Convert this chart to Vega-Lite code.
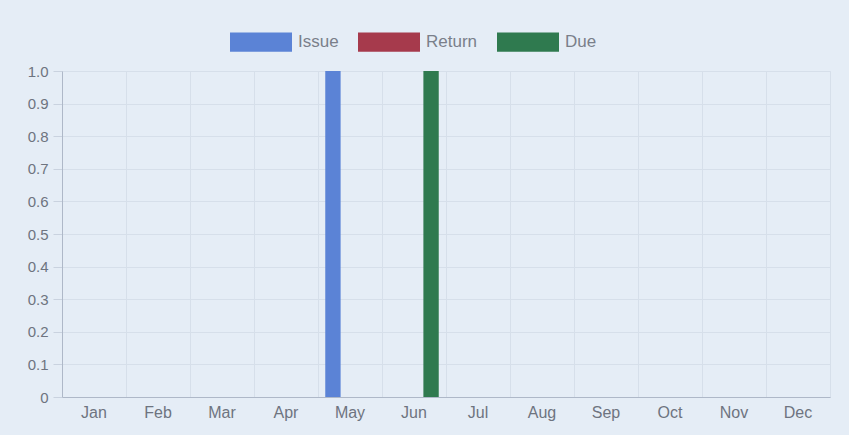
{
  "$schema": "https://vega.github.io/schema/vega-lite/v6.json",
  "autosize": "none",
  "width": 768,
  "height": 326,
  "padding": {"left": 62, "top": 71, "right": 19, "bottom": 38},
  "background": "#e5edf6",
  "config": {
    "view": {"stroke": "#d6dfea"},
    "font": "Liberation Sans",
    "axis": {"labelFont": "Liberation Sans", "labelColor": "#6e7480", "labelFontSize": 15, "gridColor": "#d6dfea", "domainColor": "#aeb8c8"}
  },
  "data": {"values": [
    {"month": "Jan", "series": "Issue", "value": 0}, {"month": "Jan", "series": "Return", "value": 0}, {"month": "Jan", "series": "Due", "value": 0},
    {"month": "Feb", "series": "Issue", "value": 0}, {"month": "Feb", "series": "Return", "value": 0}, {"month": "Feb", "series": "Due", "value": 0},
    {"month": "Mar", "series": "Issue", "value": 0}, {"month": "Mar", "series": "Return", "value": 0}, {"month": "Mar", "series": "Due", "value": 0},
    {"month": "Apr", "series": "Issue", "value": 0}, {"month": "Apr", "series": "Return", "value": 0}, {"month": "Apr", "series": "Due", "value": 0},
    {"month": "May", "series": "Issue", "value": 1}, {"month": "May", "series": "Return", "value": 0}, {"month": "May", "series": "Due", "value": 0},
    {"month": "Jun", "series": "Issue", "value": 0}, {"month": "Jun", "series": "Return", "value": 0}, {"month": "Jun", "series": "Due", "value": 1},
    {"month": "Jul", "series": "Issue", "value": 0}, {"month": "Jul", "series": "Return", "value": 0}, {"month": "Jul", "series": "Due", "value": 0},
    {"month": "Aug", "series": "Issue", "value": 0}, {"month": "Aug", "series": "Return", "value": 0}, {"month": "Aug", "series": "Due", "value": 0},
    {"month": "Sep", "series": "Issue", "value": 0}, {"month": "Sep", "series": "Return", "value": 0}, {"month": "Sep", "series": "Due", "value": 0},
    {"month": "Oct", "series": "Issue", "value": 0}, {"month": "Oct", "series": "Return", "value": 0}, {"month": "Oct", "series": "Due", "value": 0},
    {"month": "Nov", "series": "Issue", "value": 0}, {"month": "Nov", "series": "Return", "value": 0}, {"month": "Nov", "series": "Due", "value": 0},
    {"month": "Dec", "series": "Issue", "value": 0}, {"month": "Dec", "series": "Return", "value": 0}, {"month": "Dec", "series": "Due", "value": 0}
  ]},
  "layer": [
    {
      "mark": {"type": "bar", "opacity": 0},
      "encoding": {
        "x": {"field": "month", "type": "nominal", "sort": null,
              "scale": {"paddingInner": 0, "paddingOuter": 0},
              "axis": {"orient": "bottom", "bandPosition": 0, "grid": true, "labels": false, "ticks": false, "domain": false, "title": null}},
        "y": {"field": "value", "type": "quantitative",
              "scale": {"domain": [0, 1], "nice": false},
              "axis": {"title": null, "values": [0, 0.1, 0.2, 0.3, 0.4, 0.5, 0.6, 0.7, 0.8, 0.9, 1.0],
                       "labelExpr": "datum.value == 0 ? '0' : format(datum.value, '.1f')",
                       "grid": true, "tickSize": 9, "tickColor": "#c9d2df", "labelPadding": 5}}
      }
    },
    {
      "mark": {"type": "bar"},
      "encoding": {
        "x": {"field": "month", "type": "nominal", "sort": null,
              "axis": {"orient": "bottom", "title": null, "labelAngle": 0, "ticks": false, "grid": false, "labelPadding": 7, "labelFontSize": 16}},
        "xOffset": {"field": "series", "type": "nominal", "sort": ["Issue", "Return", "Due"],
                    "scale": {"paddingInner": 0.1, "paddingOuter": 0.425}},
        "y": {"field": "value", "type": "quantitative",
              "scale": {"domain": [0, 1], "nice": false},
              "axis": {"title": null, "values": [0, 0.1, 0.2, 0.3, 0.4, 0.5, 0.6, 0.7, 0.8, 0.9, 1.0],
                       "labelExpr": "datum.value == 0 ? '0' : format(datum.value, '.1f')",
                       "grid": true, "tickSize": 9, "tickColor": "#c9d2df", "labelPadding": 5}},
        "color": {"field": "series", "type": "nominal",
                  "scale": {"domain": ["Issue", "Return", "Due"], "range": ["#5b83d6", "#a63a4c", "#2f7a4f"]},
                  "legend": {"title": null, "orient": "none", "direction": "horizontal", "legendX": 168, "legendY": -60,
                             "symbolType": "M-1,-0.31H1V0.31H-1Z", "symbolSize": 3844, "symbolStrokeWidth": 0, "symbolOpacity": 1,
                             "labelFontSize": 17, "labelColor": "#7a7f8a", "labelFont": "Liberation Sans", "labelOffset": 6, "columnPadding": 19}}
      }
    }
  ],
  "resolve": {"axis": {"x": "independent"}}
}
